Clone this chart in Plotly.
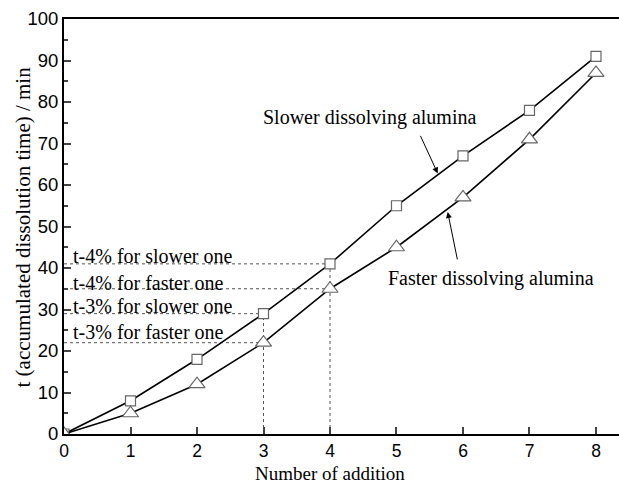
import plotly.graph_objects as go

additions = [0, 1, 2, 3, 4, 5, 6, 7, 8]
slower = [0, 8, 18, 29, 41, 55, 67, 78, 91]
faster = [0, 5, 12, 22, 35, 45, 57, 71, 87]
ref_labels = ["t-4% for slower one", "t-4% for faster one", "t-3% for slower one", "t-3% for faster one"]

serif = "Liberation Serif, Times New Roman, serif"
sans = "Liberation Sans, Arial, sans-serif"

TOP, BOT = 19, 51
PH = 485 - TOP - BOT

fig = go.Figure()

# dotted reference lines
refs = [(additions[4], slower[4]), (additions[4], faster[4]), (additions[3], slower[3]), (additions[3], faster[3])]
for xv, yv in refs:
    fig.add_shape(type="line", x0=0, x1=xv, y0=yv, y1=yv, xref="x", yref="y",
                  line=dict(color="#555", width=1, dash="dot"), layer="below")
for xv, yv in [(additions[3], slower[3]), (additions[4], slower[4])]:
    fig.add_shape(type="line", x0=xv, x1=xv, y0=0, y1=yv, xref="x", yref="y",
                  line=dict(color="#555", width=1, dash="dot"), layer="below")

fig.add_trace(go.Scatter(x=additions, y=slower, mode="lines+markers",
                         line=dict(color="black", width=1.6),
                         marker=dict(symbol="square", size=10, color="white",
                                     line=dict(color="#666", width=1.2)),
                         showlegend=False))
fig.add_trace(go.Scatter(x=additions, y=faster, mode="lines+markers",
                         line=dict(color="black", width=1.6),
                         marker=dict(symbol="triangle-up", size=14, color="white",
                                     line=dict(color="#666", width=1.2)),
                         showlegend=False))

ann_y = [42.9, 36.3, 30.8, 24.7]
for lab, yy in zip(ref_labels, ann_y):
    fig.add_annotation(x=0.105, y=yy, xref="x", yref="y", text=lab, showarrow=False,
                       xanchor="left", yanchor="middle",
                       font=dict(family=serif, size=20, color="black"))

fig.add_annotation(x=4.60, y=76.3, xref="x", yref="y", text="Slower dissolving alumina",
                   showarrow=False, font=dict(family=serif, size=20, color="black"))
fig.add_annotation(x=5.62, y=62.8, ax=5.35, ay=72.2, xref="x", yref="y", axref="x", ayref="y",
                   text="", showarrow=True, arrowhead=2, arrowsize=1.2, arrowwidth=1, arrowcolor="black")
fig.add_annotation(x=6.42, y=37.4, xref="x", yref="y", text="Faster dissolving alumina",
                   showarrow=False, font=dict(family=serif, size=20, color="black"))
fig.add_annotation(x=5.77, y=53.5, ax=5.92, ay=41.7, xref="x", yref="y", axref="x", ayref="y",
                   text="", showarrow=True, arrowhead=2, arrowsize=1.2, arrowwidth=1, arrowcolor="black")

# axis titles as annotations
fig.add_annotation(x=-0.0739, y=0.5, xref="paper", yref="paper",
                   text="t (accumulated dissolution time) / min", textangle=-90,
                   showarrow=False, xanchor="center", yanchor="middle",
                   font=dict(family=serif, size=21, color="black"))
fig.add_annotation(x=(330 - 64) / 555, y=-BOT / PH, xref="paper", yref="paper",
                   text="Number of addition", borderpad=0,
                   showarrow=False, xanchor="center", yanchor="bottom",
                   font=dict(family=serif, size=19, color="black"))

fig.update_layout(
    width=619, height=485,
    margin=dict(l=64, r=0, t=TOP, b=BOT),
    plot_bgcolor="white", paper_bgcolor="white",
    font=dict(family=sans, size=18, color="black"),
)
fig.update_xaxes(range=[0, 8.346], tickvals=additions, ticks="inside", ticklen=7, tickwidth=2,
                 showline=True, linecolor="black", linewidth=2, mirror=True, showgrid=False,
                 zeroline=False, tickfont=dict(family=sans, size=17.5))
fig.update_yaxes(range=[0, 100], dtick=10, ticks="inside", ticklen=7, tickwidth=2,
                 minor=dict(ticks="inside", ticklen=4, dtick=5, tickwidth=1.5),
                 showline=True, linecolor="black", linewidth=2, showgrid=False, zeroline=False,
                 tickfont=dict(family=sans, size=18.5))

fig.write_html("out.html")
